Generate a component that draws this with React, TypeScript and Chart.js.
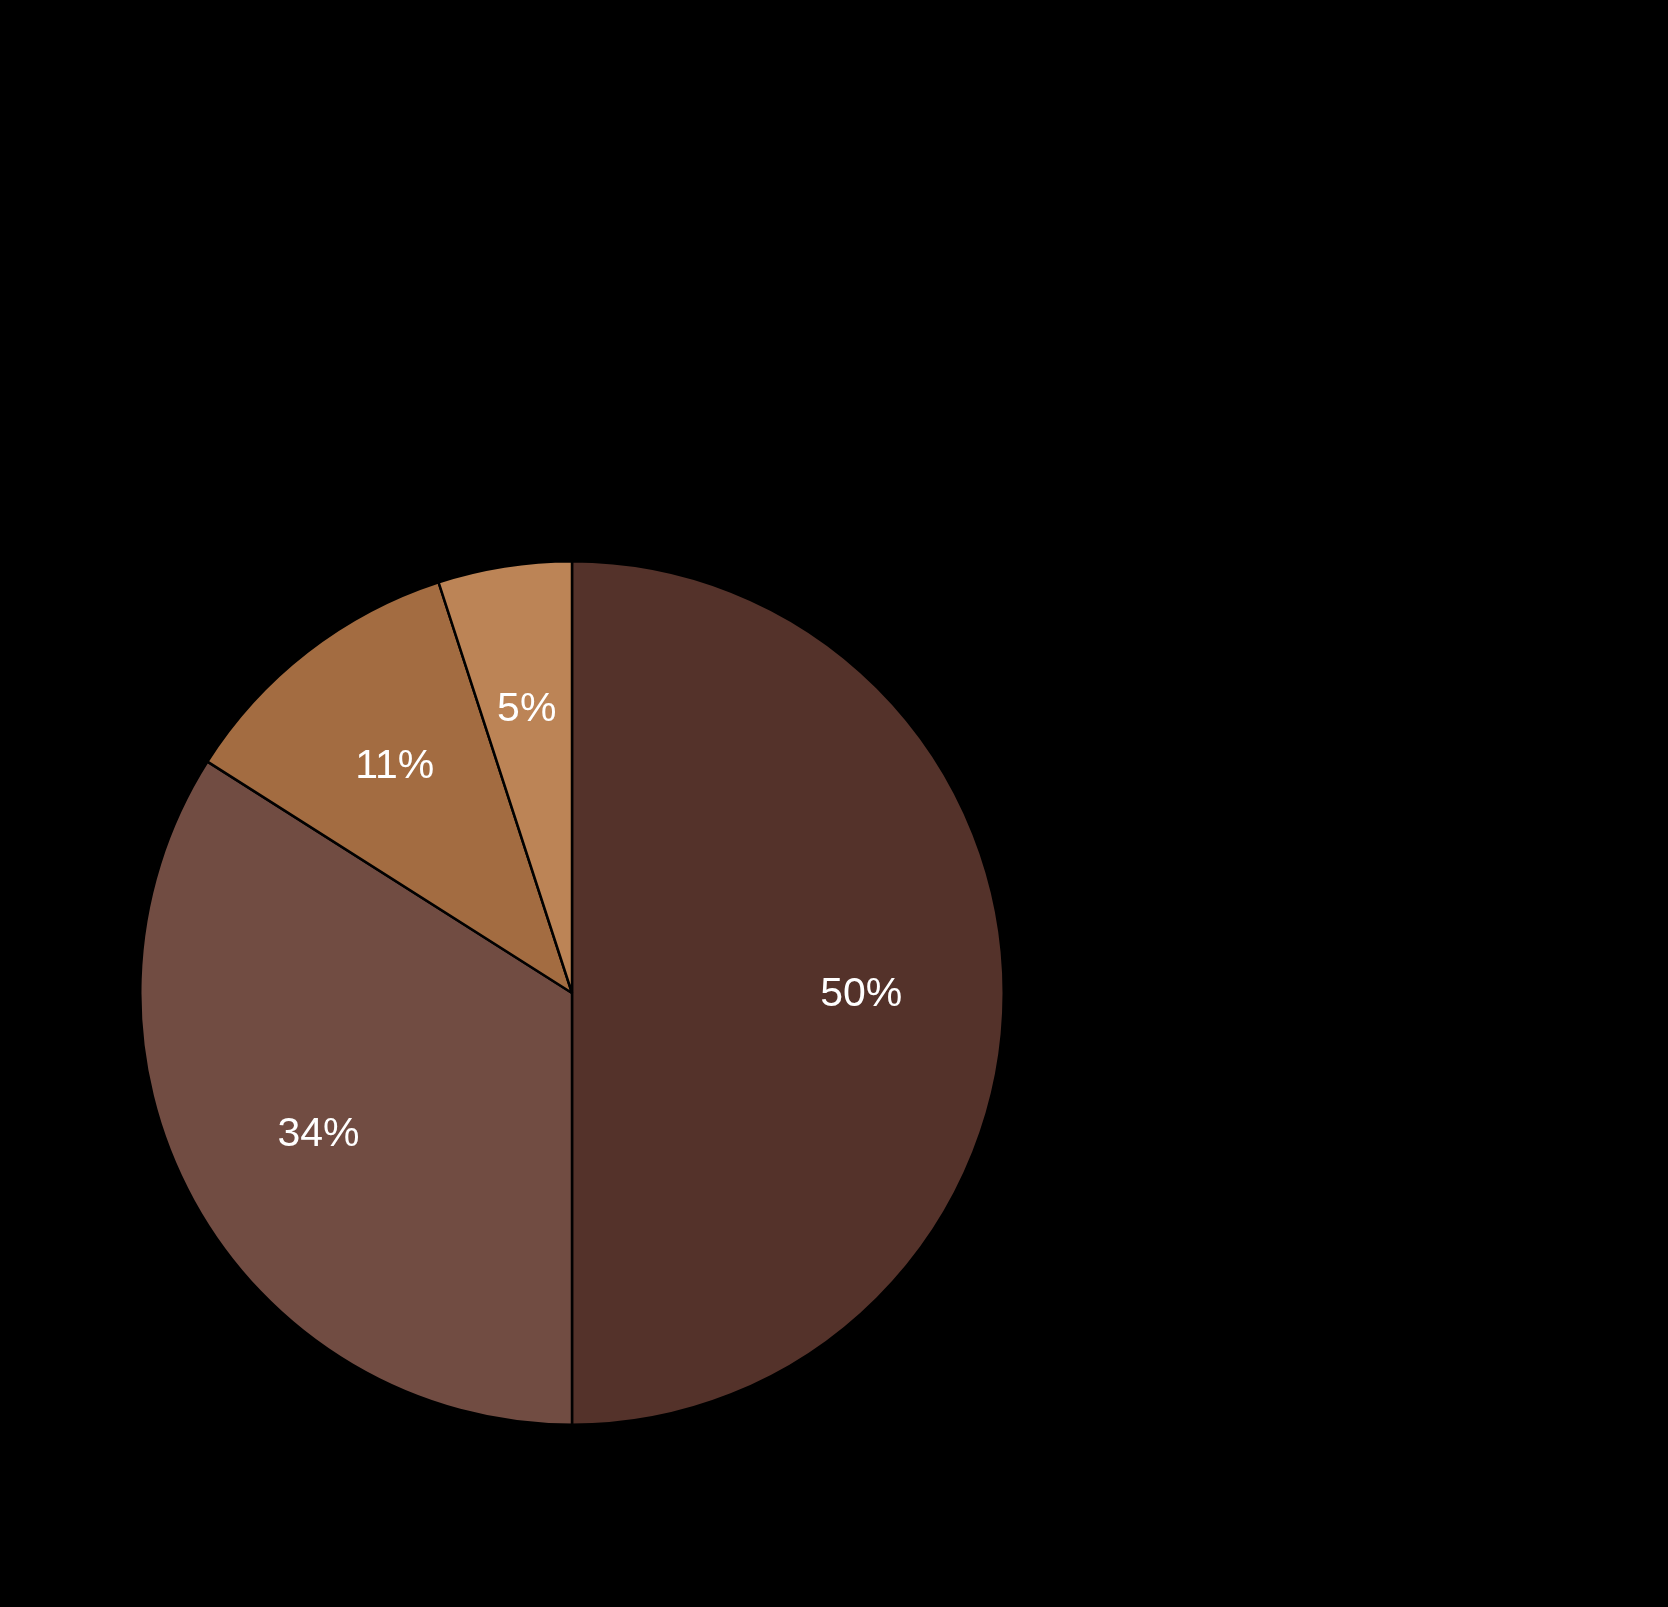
import React, { useEffect, useRef } from "react";
import { Chart, registerables } from "chart.js";

Chart.register(...registerables);

const categories = ["A", "B", "C", "D"];
const values = [50, 34, 11, 5];
const labelsText = ["50%", "34%", "11%", "5%"];
const colors = ["#54322A", "#714C42", "#A36C41", "#BC8456"];

const pctLabels = {
  id: "pctLabels",
  afterDatasetsDraw(chart: any) {
    const ctx = chart.ctx;
    const meta = chart.getDatasetMeta(0);
    ctx.save();
    ctx.fillStyle = "#FFFFFF";
    ctx.font = "41px 'Liberation Sans', Arial, sans-serif";
    ctx.textAlign = "center";
    ctx.textBaseline = "middle";
    meta.data.forEach((arc: any, i: number) => {
      const p = arc.getProps(["x", "y", "startAngle", "endAngle", "outerRadius"], true);
      const mid = (p.startAngle + p.endAngle) / 2;
      const r = p.outerRadius * 0.67;
      ctx.fillText(labelsText[i], p.x + Math.cos(mid) * r, p.y + Math.sin(mid) * r + 2);
    });
    ctx.restore();
  },
};

export default function App() {
  const ref = useRef<HTMLCanvasElement>(null);
  useEffect(() => {
    document.body.style.margin = "0";
    document.body.style.background = "#000";
    const chart = new Chart(ref.current!, {
      type: "pie",
      data: {
        labels: categories,
        datasets: [
          {
            data: values,
            backgroundColor: colors,
            borderColor: "#000000",
            borderWidth: 2.5,
          },
        ],
      },
      options: {
        animation: false,
        responsive: false,
        maintainAspectRatio: false,
        layout: { padding: 0 },
        plugins: {
          legend: { display: false },
          tooltip: { enabled: false },
          title: { display: false },
        },
      },
      plugins: [pctLabels],
    });
    return () => chart.destroy();
  }, []);
  return (
    <div style={{ position: "relative", width: 1668, height: 1607, background: "#000", overflow: "hidden" }}>
      <canvas
        ref={ref}
        width={866}
        height={866}
        style={{ position: "absolute", left: 139, top: 560, width: 866, height: 866 }}
      />
    </div>
  );
}
